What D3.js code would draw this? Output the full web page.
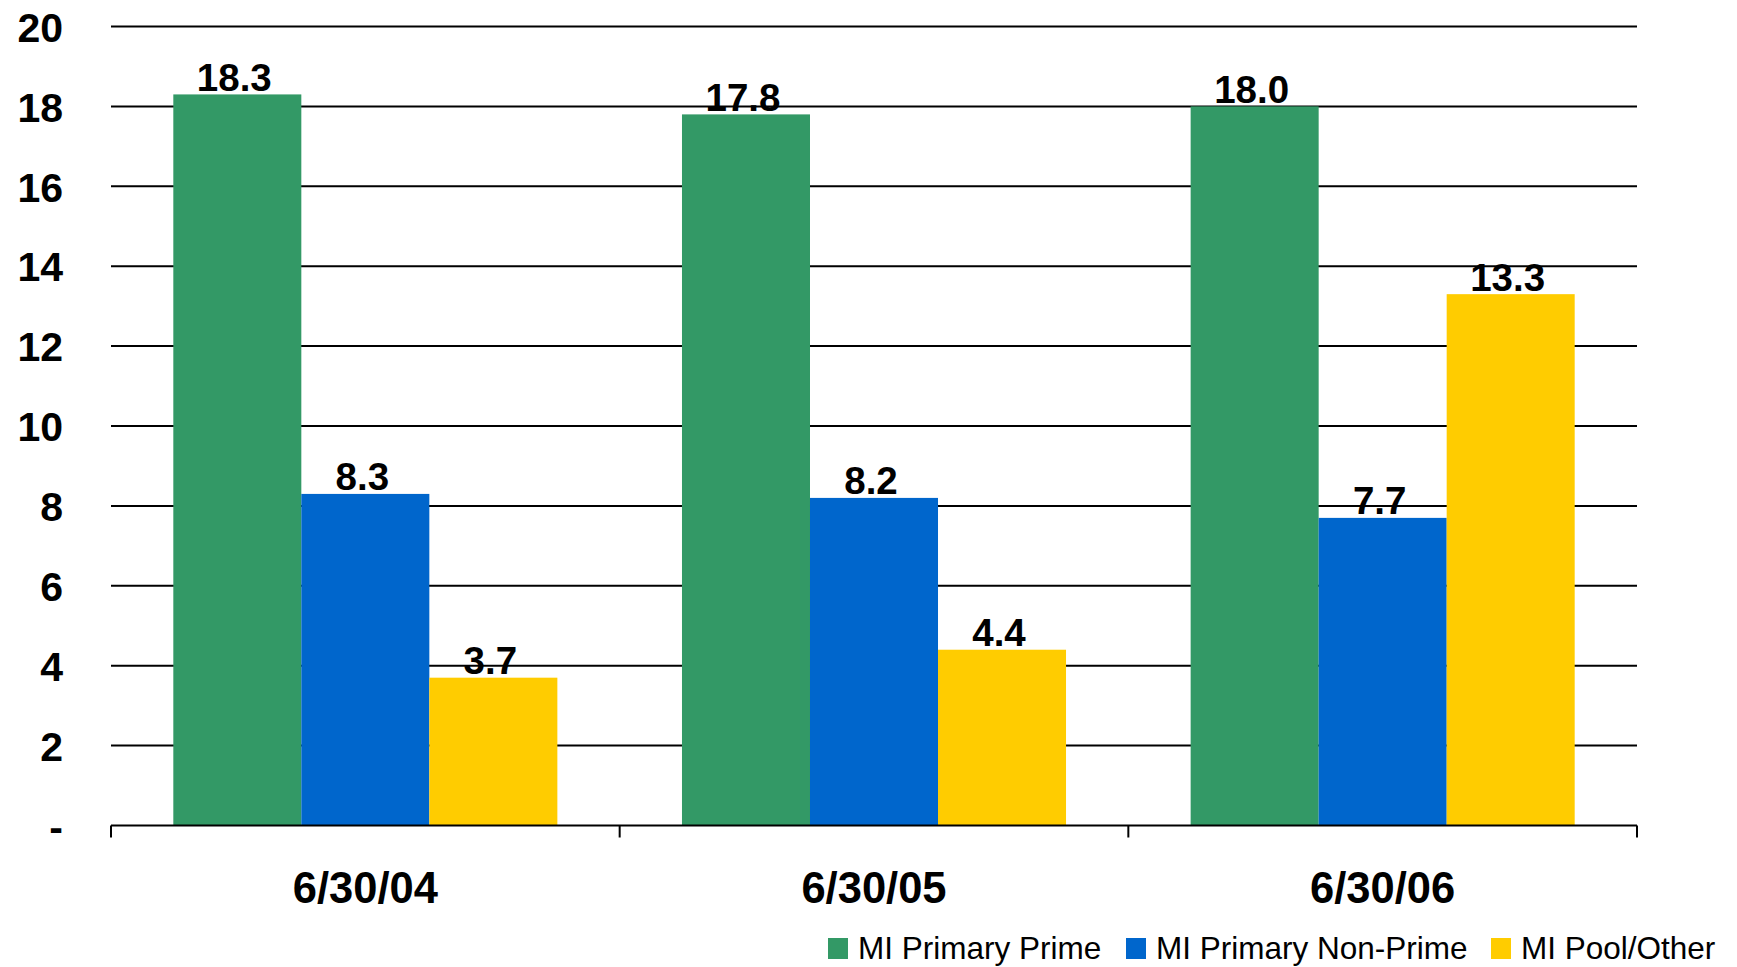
<!DOCTYPE html>
<html>
<head>
<meta charset="utf-8">
<script src="https://cdn.jsdelivr.net/npm/d3@7"></script>
<style>
  html, body { margin: 0; padding: 0; background: #fff; }
  svg { display: block; font-family: "Liberation Sans", Arial, sans-serif; }
</style>
</head>
<body>
<svg id="chart" width="1737" height="967"></svg>
<script>
// Reporting dates along the x axis
const categories = ["6/30/04", "6/30/05", "6/30/06"];

// Series names and colours
const seriesNames = ["MI Primary Prime", "MI Primary Non-Prime", "MI Pool/Other"];
const seriesColors = ["#339966", "#0066CC", "#FFCC00"];

// Values per series, one per date
const primePrime = [18.3, 17.8, 18.0];
const primeNonPrime = [8.3, 8.2, 7.7];
const poolOther = [3.7, 4.4, 13.3];

// Y axis ticks
const yTicks = [0, 2, 4, 6, 8, 10, 12, 14, 16, 18, 20];
const yTickLabels = ["-", "2", "4", "6", "8", "10", "12", "14", "16", "18", "20"];

const seriesValues = [primePrime, primeNonPrime, poolOther];
const rows = categories.map((c, i) => ({
  category: c,
  values: seriesNames.map((s, k) => ({ series: s, color: seriesColors[k], value: seriesValues[k][i] }))
}));

const svg = d3.select("#chart");
const plot = { left: 111, right: 1637, top: 26.5, bottom: 825.5 };

const x0 = d3.scaleBand().domain(categories).range([plot.left, plot.right]).padding(0);
const groupW = x0.bandwidth();
const x1 = d3.scaleBand().domain(seriesNames).range([groupW * 0.1225, groupW * 0.8775]).padding(0);
const y = d3.scaleLinear().domain([0, 20]).range([plot.bottom, plot.top]);

// Horizontal gridlines
svg.append("g")
  .selectAll("line")
  .data(yTicks.filter(d => d > 0))
  .join("line")
  .attr("x1", plot.left).attr("x2", plot.right)
  .attr("y1", d => y(d)).attr("y2", d => y(d))
  .attr("stroke", "#000").attr("stroke-width", 2);

// Y axis labels (no axis line)
const yAxis = d3.axisLeft(y)
  .tickValues(yTicks)
  .tickSize(0)
  .tickPadding(0)
  .tickFormat((d, i) => yTickLabels[i]);
const yG = svg.append("g").attr("transform", "translate(63,0)").call(yAxis);
yG.select(".domain").remove();
yG.selectAll("text")
  .attr("font-family", "Liberation Sans, Arial, sans-serif")
  .attr("font-size", 41)
  .attr("font-weight", "bold")
  .attr("fill", "#000")
  .attr("dy", "0.36em");

// Bars
const groups = svg.append("g")
  .selectAll("g")
  .data(rows)
  .join("g")
  .attr("transform", d => `translate(${x0(d.category)},0)`);

groups.selectAll("rect")
  .data(d => d.values)
  .join("rect")
  .attr("x", d => x1(d.series))
  .attr("width", x1.bandwidth())
  .attr("y", d => y(d.value))
  .attr("height", d => y(0) - y(d.value))
  .attr("fill", d => d.color);

// Value labels above bars
groups.selectAll("text.val")
  .data(d => d.values)
  .join("text")
  .attr("class", "val")
  .attr("x", d => x1(d.series) + x1.bandwidth() / 2 - 3)
  .attr("y", d => y(d.value) - 3.5)
  .attr("text-anchor", "middle")
  .attr("font-size", 38.5)
  .attr("font-weight", "bold")
  .attr("fill", "#000")
  .text(d => d.value.toFixed(1));

// X axis with group boundary ticks
const xAxisG = svg.append("g");
xAxisG.append("line")
  .attr("x1", plot.left).attr("x2", plot.right)
  .attr("y1", y(0)).attr("y2", y(0))
  .attr("stroke", "#000").attr("stroke-width", 2.2);
const boundaries = categories.map(c => x0(c)).concat([plot.right]);
xAxisG.selectAll("line.tick")
  .data(boundaries)
  .join("line")
  .attr("class", "tick")
  .attr("x1", d => d).attr("x2", d => d)
  .attr("y1", y(0)).attr("y2", y(0) + 12)
  .attr("stroke", "#000").attr("stroke-width", 2);

xAxisG.selectAll("text")
  .data(categories)
  .join("text")
  .attr("x", d => x0(d) + groupW / 2)
  .attr("y", 903)
  .attr("text-anchor", "middle")
  .attr("font-size", 43.5)
  .attr("font-weight", "bold")
  .attr("fill", "#000")
  .text(d => d);

// Legend
const legendItems = [
  { name: seriesNames[0], color: seriesColors[0], x: 828 },
  { name: seriesNames[1], color: seriesColors[1], x: 1126 },
  { name: seriesNames[2], color: seriesColors[2], x: 1491 }
];
const legend = svg.append("g");
legend.selectAll("rect")
  .data(legendItems)
  .join("rect")
  .attr("x", d => d.x).attr("y", 938)
  .attr("width", 20).attr("height", 21)
  .attr("fill", d => d.color);
legend.selectAll("text")
  .data(legendItems)
  .join("text")
  .attr("x", d => d.x + 30)
  .attr("y", 959)
  .attr("font-size", 31.5)
  .attr("fill", "#000")
  .text(d => d.name);
</script>
</body>
</html>
